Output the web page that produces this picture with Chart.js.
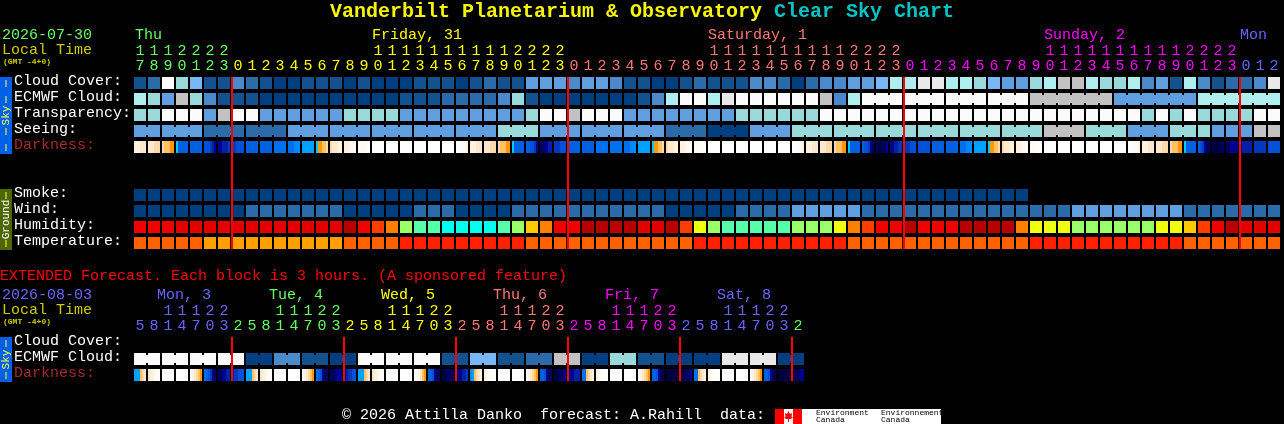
<!DOCTYPE html>
<html><head><meta charset="utf-8">
<style>html,body{margin:0;padding:0;background:#000;overflow:hidden}canvas{display:block;background:#000}</style>
<script src="https://cdn.jsdelivr.net/npm/chart.js@4/dist/chart.umd.min.js"></script>
</head><body><canvas id="c" width="1284" height="424"></canvas>
<script>
// ---------- data ----------
const mainHours=[17,18,19,20,21,22,23,
0,1,2,3,4,5,6,7,8,9,10,11,12,13,14,15,16,17,18,19,20,21,22,23,
0,1,2,3,4,5,6,7,8,9,10,11,12,13,14,15,16,17,18,19,20,21,22,23,
0,1,2,3,4,5,6,7,8,9,10,11,12,13,14,15,16,17,18,19,20,21,22,23,
0,1,2];
const extHours=[5,8,11,14,17,20,23,
2,5,8,11,14,17,20,23, 2,5,8,11,14,17,20,23, 2,5,8,11,14,17,20,23,
2,5,8,11,14,17,20,23, 2,5,8,11,14,17,20,23, 2];
const mainRowLabels=['Cloud Cover:','ECMWF Cloud:','Transparency:','Seeing:','Darkness:','','','Smoke:','Wind:','Humidity:','Temperature:'];
const extRowLabels=['Cloud Cover:','ECMWF Cloud:','Darkness:'];

const cloudCover=[1,2,10,6,5,1,1,3,2,1,0,0,1,1,1,0,1,0,0,0,1,1,1,0,1,2,1,1,4,4,4,3,4,4,3,1,1,0,0,1,2,1,1,1,3,3,2,0,2,3,3,4,
4,5,7,7,9,9,7,7,6,5,4,4,6,7,8,8,7,6,6,7,3,4,1,7,3,1,2,2,3,9];
const ecmwfCloud=[7,6,4,8,6,3,1,1,1,0,0,0,0,0,0,0,0,0,0,1,1,1,2,2,2,2,3,6,1,0,0,0,0,0,0,0,1,3,7,10,10,7,9,10,10,10,10,10,10,8,3,7,
10,10,10,10,10,10,10,10,10,10,10,10,8,8,8,8,8,8,4,4,4,4,4,4,7,7,7,7,7,7];
const transparency=[6,6,10,10,10,4,8,10,10,4,4,4,4,4,4,6,6,6,6,4,4,4,4,4,4,4,4,4,6,10,10,8,10,10,10,4,4,4,4,4,4,4,4,6,6,6,6,6,6,10,10,10,
10,10,10,10,10,10,10,10,10,10,10,10,10,10,10,10,10,10,10,10,6,10,6,10,6,6,6,6,10,10];
const seeing=[4,4,4,4,4,2,2,2,2,2,2,4,4,4,4,4,4,4,4,4,4,4,4,4,4,4,6,6,6,4,4,4,4,4,4,4,4,4,2,2,2,0,0,0,4,4,4,6,6,6,6,6,6,
6,6,6,6,6,6,6,6,6,6,6,6,8,8,8,6,6,6,4,4,4,6,6,6,4,4,4,8,8];
// block sizes: neighbouring cells inside one block are joined
const seeingBlocks=[2,3,3,3,3,3,3,3,3,3,3,3,3,3,3,3,3,3,3,3,3,3,3,3,3,2];
const ecmwfBlocks=[1,1,1,1,1,1,1,1,1,1,1,1,1,1,1,1,1,1,1,1,1,1,1,1,1,1,1,1,1,1,1,1,1,1,1,1,1,1,1,1,1,1,1,1,1,1,1,1,1,1,1,1,3,3,3,3,6,6,6];
const darkness=[[2,2,2,3,3,3],[3,3,3,4,4,4],[4,5,5,5,6,6],[7,11,11,11,11,11],11,[12,12,12,13,14,15],[15,15,14,14,14,13],[13,13,12,12,12,12],11,11,10,[10,10,10,9,9,9],8,[7,6,6,5,5,4],[4,3,3,3,2,2],[2,2,2,1,1,1],[1,1,1,1,0,0],
0,0,0,0,0,0,[0,0,1,1,1,2],[2,2,2,3,3,3],[3,3,3,4,4,4],[4,5,5,5,6,6],[7,11,11,11,11,11],[11,11,12,12,13,15],[16,16,15,15,14,14],[13,13,13,12,12,12],11,11,10,10,[10,10,10,9,9,9],8,[7,6,6,5,5,4],[4,3,3,3,2,2],[2,2,2,1,1,1],[1,1,1,0,0,0],
0,0,0,0,0,0,[0,0,1,1,1,2],[2,2,2,3,3,3],[3,3,3,4,4,4],[4,5,5,5,6,6],[7,11,11,11,11,11],[11,12,12,13,15,16],[16,17,17,16,16,15],[15,15,14,14,13,13],[13,13,13,12,12,12],12,11,11,[10,10,10,9,9,9],8,[7,6,6,5,5,4],[4,3,3,3,2,2],[2,2,2,1,1,1],[1,1,1,0,0,0],
0,0,0,0,0,0,[0,0,1,1,1,2],[2,2,2,3,3,3],[3,3,3,4,4,4],[4,5,5,5,6,6],[7,11,11,11,11,11],[11,12,13,15,16,16],[17,17,17,17,16,16],[16,16,15,15,15,15],[15,14,14,14,14,14],13,12];
const smoke=[0,0,0,0,0,0,0,0,0,0,0,0,0,0,0,0,0,0,0,0,0,0,0,0,0,0,0,0,0,0,0,0,0,0,0,0,0,0,0,0,0,0,0,0,0,0,0,0,0,0,0,0,0,0,0,0,0,0,0,0,0,0,0,0];
const wind=[0,0,0,0,0,0,0,0,2,2,2,2,2,2,2,0,0,0,0,0,2,2,2,0,0,0,0,2,2,2,2,2,2,2,2,2,2,2,0,0,0,0,0,2,2,2,2,4,4,4,4,4,
2,2,2,2,2,2,2,2,2,2,2,2,2,2,2,4,4,4,4,4,4,4,4,2,2,2,2,2,2,2];
const humidity=[2,2,2,1,1,1,1,1,1,1,1,1,1,1,1,0,2,3,4,7,8,8,9,9,9,9,8,7,5,4,2,2,0,0,0,0,1,1,0,3,6,7,8,8,8,8,8,7,7,7,6,4,
3,2,2,0,2,2,2,0,0,0,0,4,6,6,6,7,7,7,7,7,7,6,6,5,3,2,0,1,1,1];
const temperature=[1,1,1,1,1,2,2,2,2,2,2,2,2,2,2,1,1,1,1,0,0,0,0,0,0,0,0,0,1,1,1,1,1,1,1,1,1,1,1,1,0,0,0,0,0,0,0,0,0,0,0,1,
1,1,1,1,1,1,1,1,1,1,1,1,0,0,0,0,0,0,0,0,0,0,0,1,1,1,1,1,1,1];
const extEcmwf=[10,10,10,10,10,10,10,10,0,0,3,3,1,1,0,0,10,10,10,10,10,10,1,1,5,5,1,1,2,2,8,8,0,0,6,6,1,1,0,0,0,0,9,9,9,9,0,0];
const extBlocks=[2,2,2,2,2,2,2,2,2,2,2,2,2,2,2,2,2,2,2,2,2,2,2,2];
const extDarkness=[[8,8,8,5,4,3],[3,2,2,1,1,0],0,0,[1,2,3,4,5,6],[10,11,12,13,15,16],[16,16,15,15,14,14],[14,13,13,12,12,12],
[8,8,8,5,4,3],[3,2,2,1,1,0],0,0,[1,2,3,4,5,6],[10,11,12,15,16,16],[16,16,16,15,15,15],[15,14,13,13,12,12],
[8,8,8,5,4,3],[3,2,2,1,1,0],0,0,[0,1,2,3,5,6],[11,11,12,15,16,16],[17,17,16,16,16,16],[16,15,15,14,14,13],
[9,8,5,4,3,2],[2,1,1,1,0,0],0,0,[1,2,3,4,5,6],[11,11,12,15,16,16],[17,17,16,16,16,15],[15,15,15,14,14,14],
[10,10,5,4,3,2],[2,1,1,0,0,0],0,0,[1,2,3,4,5,6],[11,11,12,15,16,17],17,[17,17,16,16,16,15],
[10,10,5,4,3,2],[2,1,1,0,0,0],0,0,[1,2,3,4,5,6],[11,11,12,15,16,17],17,[17,16,16,16,15,15]];
const mainMidnights=[7,31,55,79];
const extMidnights=[7,15,23,31,39,47];

// ---------- palettes ----------
const skyPalette=['#003f7f','#13518f','#2b6ba9','#4a8aca','#5f9fdf','#77b7f7','#9ad9d9','#aeeeee','#c2c2c2','#e9e9e9','#fbfbfb'];
const darkPalette=['#ffffff','#fffaf4','#fff3e0','#ffe8cc','#ffd8a8','#ffc060','#ff9800','#00c8ff','#00a0ff','#0088ff','#0070f0','#0060e0','#0050d8','#0038c0','#0020a8','#000090','#000060','#000040'];
const humidityPalette=['#b80000','#e40000','#f00000','#ff3c00','#ff8000','#ffc800','#eeff10','#99ff66','#55ffaa','#00ffee'];
const tempPalette=['#ff2000','#ff6000','#ffa000'];
const GREEN='#66ff66',YELLOW='#ffff00',SALMON='#ff7777',MAGENTA='#ff00ff',BLUE='#6666ff',OLIVE='#cccc00';
const mainDayRuns=[[7,GREEN],[24,YELLOW],[24,SALMON],[24,MAGENTA],[3,BLUE]];
const extDayRuns=[[7,BLUE],[8,GREEN],[8,YELLOW],[8,SALMON],[8,MAGENTA],[8,BLUE],[1,GREEN]];
const expand=r=>r.flatMap(([n,c])=>Array(n).fill(c));
const mainColors=expand(mainDayRuns),extColors=expand(extDayRuns);
const FONT='"Liberation Mono"';

// ---------- dataset builders ----------
const HALF=0.375,NECK=0.25;
const cells=(values,row,palette,xAxisID,yAxisID)=>({
  xAxisID,yAxisID,order:2,
  data:values.map((_,i)=>({x:i,y:[row-HALF,row+HALF]})),
  backgroundColor:values.map(v=>palette[v])
});
const links=(values,blocks,row,palette,xAxisID,yAxisID)=>{
  const data=[],bg=[];let start=0;
  blocks.forEach(n=>{for(let k=0;k<n-1;k++){data.push({x:start+k+0.5,y:[row-NECK,row+NECK]});bg.push(palette[values[start+k]]);}start+=n;});
  return {xAxisID,yAxisID,order:2,barThickness:2,data,backgroundColor:bg};
};
const gradientCells=(values,row,xAxisID,yAxisID)=>({
  xAxisID,yAxisID,order:2,
  data:values.map((_,i)=>({x:i,y:[row-HALF,row+HALF]})),
  backgroundColor:c=>{
    if(c.dataIndex===undefined) return darkPalette[0];
    const v=values[c.dataIndex];
    if(typeof v==='number') return darkPalette[v];
    const px=c.chart.scales[xAxisID]?c.chart.scales[xAxisID].getPixelForValue(c.dataIndex):NaN;
    if(!isFinite(px)) return darkPalette[v[0]];
    const g=c.chart.ctx.createLinearGradient(px-6,0,px+6,0);
    v.forEach((s,k)=>{g.addColorStop(k/v.length,darkPalette[s]);g.addColorStop((k+1)/v.length,darkPalette[s]);});
    return g;
  }
});
const midnightBars=(cols,top,bottom,xAxisID,yAxisID)=>({
  xAxisID,yAxisID,order:0,barThickness:2,
  data:cols.map(c=>({x:c-3/7,y:[top,bottom]})),
  backgroundColor:'#ff0000'
});
const hourTicks=h=>h.map(v=>v>=10?[String(Math.floor(v/10)),String(v%10)]:['',String(v)]);

// ---------- page text drawn round the chart ----------
const texts=[
 ['2026-07-30',2,35,GREEN],['Local Time',2,50,OLIVE],
 ['Thu',135,35,GREEN],['Friday, 31',372,35,YELLOW],['Saturday, 1',708,35,SALMON],['Sunday, 2',1044,35,MAGENTA],['Mon',1240,35,BLUE],
 ['EXTENDED Forecast. Each block is 3 hours. (A sponsored feature)',0,276,'#ff0000'],
 ['2026-08-03',2,295,BLUE],['Local Time',2,310,OLIVE],
 ['Mon, 3',157,295,BLUE],['Tue, 4',269,295,GREEN],['Wed, 5',381,295,YELLOW],['Thu, 6',493,295,SALMON],['Fri, 7',605,295,MAGENTA],['Sat, 8',717,295,BLUE],
 ['© 2026 Attilla Danko  forecast: A.Rahill  data:',342,415,'#ffffff']
];
const page={id:'page',afterDraw(chart){
  const c=chart.ctx;c.save();c.textBaseline='middle';c.textAlign='left';
  c.font='bold 20px '+FONT;c.fillStyle='#f5f500';c.fillText('Vanderbilt Planetarium & Observatory',330,12);
  c.fillStyle='#00c4c4';c.fillText('Clear Sky Chart',774,12);
  c.font='15px '+FONT;
  texts.forEach(([t,x,y,col])=>{c.fillStyle=col;c.fillText(t,x,y);});
  c.font='bold 8px '+FONT;c.fillStyle=OLIVE;
  c.fillText('(GMT -4+0)',3,62);c.fillText('(GMT -4+0)',3,322);
  // side strips
  const strip=(y0,y1,col,word,wc)=>{
    c.fillStyle=col;c.fillRect(0,y0,12,y1-y0);
    c.save();c.translate(6,(y0+y1)/2);c.rotate(-Math.PI/2);c.textAlign='center';c.font='11px '+FONT;
    c.fillStyle=wc;c.fillText(word,0,0);
    const half=(y1-y0)/2;
    c.fillStyle='#ffff40';
    [half-3,half-19].forEach(d=>{if(d>(word.length*7)/2+2){c.fillRect(-d,-0.5,7,1);c.fillRect(d-7,-0.5,7,1);}});
    c.restore();
  };
  strip(77,154,'#0060e8','Sky','#ffff40');
  strip(189,250,'#4e6600','Ground','#ffffff');
  strip(337,382,'#0060e8','Sky','#ffff40');
  // logo
  c.fillStyle='#ffffff';c.fillRect(775,409,166,15);
  c.fillStyle='#ff0000';c.fillRect(775,409,9,15);c.fillRect(793,409,9,15);
  c.beginPath();[[788.5,411],[790,414],[792,413],[791.5,417],[793,417],[791,419],[789,419],[789,422],[788,422],[788,419],[786,419],[784,417],[785.5,417],[785,413],[787,414]].forEach(([x,y],i)=>i?c.lineTo(x,y):c.moveTo(x,y));c.fill();
  c.fillStyle='#000000';c.font='8px '+FONT;
  c.fillText('Environment',816,413);c.fillText('Canada',816,420);
  c.fillText('Environnement',881,413);c.fillText('Canada',881,420);
  c.restore();
}};

// ---------- axes ----------
const HOUR_AXIS_ROW=-2.47;
const xCommon=(hours,colors,ypos)=>({
  type:'linear',min:-0.5,max:81.5,position:ypos,offset:false,
  grid:{display:false,drawTicks:false},border:{display:false},
  afterBuildTicks:s=>{s.ticks=hours.map((_,i)=>({value:i}));},
  ticks:{autoSkip:false,maxRotation:0,minRotation:0,padding:0,crossAlign:'near',
    font:{family:FONT,size:15,lineHeight:1},
    color:c=>colors[c.index],
    callback:(v)=>hourTicks(hours)[v]}
});
const yCommon=(labels,min,max,weight)=>({
  type:'linear',reverse:true,min,max,position:'left',stack:'rows',stackWeight:weight,
  grid:{display:false,drawTicks:false},border:{display:false},
  afterFit:s=>{s.width=119;},
  afterBuildTicks:s=>{s.ticks=labels.map((_,i)=>({value:i}));},
  ticks:{autoSkip:false,padding:0,crossAlign:'far',labelOffset:-2,
    font:{family:FONT,size:15,lineHeight:1},
    color:c=>labels[c.index]==='Darkness:'?'#a52a2a':'#ffffff',
    callback:v=>labels[v]}
});

new Chart(document.getElementById('c'),{
  type:'bar',
  data:{datasets:[
    midnightBars(mainMidnights,-HALF,10+HALF,'x','y'),
    midnightBars(extMidnights,-HALF,2+HALF,'xExt','yExt'),
    cells(cloudCover,0,skyPalette,'x','y'),
    links(ecmwfCloud,ecmwfBlocks,1,skyPalette,'x','y'),
    cells(ecmwfCloud,1,skyPalette,'x','y'),
    cells(transparency,2,skyPalette,'x','y'),
    links(seeing,seeingBlocks,3,skyPalette,'x','y'),
    cells(seeing,3,skyPalette,'x','y'),
    gradientCells(darkness,4,'x','y'),
    cells(smoke,7,skyPalette,'x','y'),
    cells(wind,8,skyPalette,'x','y'),
    cells(humidity,9,humidityPalette,'x','y'),
    cells(temperature,10,tempPalette,'x','y'),
    links(extEcmwf,extBlocks,1,skyPalette,'xExt','yExt'),
    cells(extEcmwf,1,skyPalette,'xExt','yExt'),
    gradientCells(extDarkness,2,'xExt','yExt')
  ]},
  plugins:[page],
  options:{
    responsive:false,animation:false,events:[],
    devicePixelRatio:1,
    layout:{padding:{left:14,top:75,right:3,bottom:41}},
    plugins:{legend:{display:false},tooltip:{enabled:false},title:{display:false}},
    datasets:{bar:{grouped:false,barThickness:12,inflateAmount:0,borderWidth:0}},
    scales:{
      x:xCommon(mainHours,mainColors,{y:HOUR_AXIS_ROW}),
      xExt:Object.assign({axis:'x'},xCommon(extHours,extColors,{yExt:HOUR_AXIS_ROW})),
      yExt:Object.assign({axis:'y'},yCommon(extRowLabels,-0.5,2.5,48)),
      y:yCommon(mainRowLabels,-0.5,15.75,260)
    }
  }
});
</script></body></html>
